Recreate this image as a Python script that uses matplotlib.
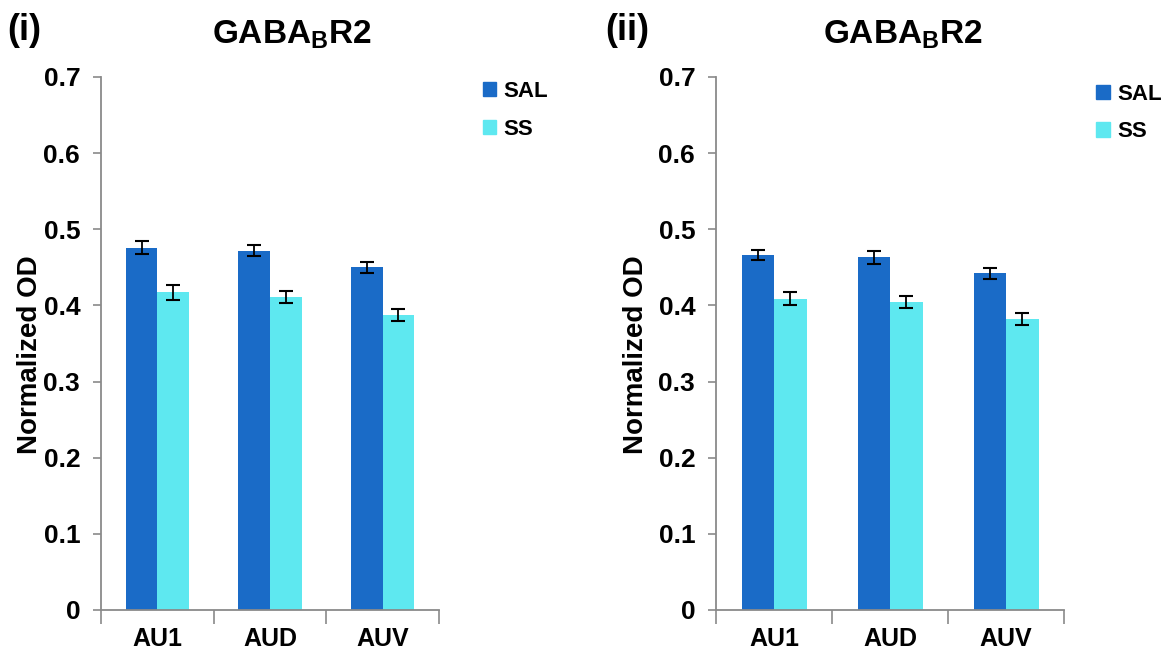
import numpy as np
import matplotlib.pyplot as plt
from matplotlib.patches import Patch

plt.rcParams['font.family'] = ['Liberation Sans', 'DejaVu Sans']
plt.rcParams['font.weight'] = 'bold'
plt.rcParams['mathtext.fontset'] = 'custom'
plt.rcParams['mathtext.rm'] = 'Liberation Sans:bold'
plt.rcParams['mathtext.bf'] = 'Liberation Sans:bold'

# data
regions = ['AU1', 'AUD', 'AUV']
sal_i = [0.476, 0.472, 0.450]
sal_i_err = [0.008, 0.007, 0.007]
ss_i = [0.417, 0.411, 0.387]
ss_i_err = [0.010, 0.008, 0.008]

sal_ii = [0.466, 0.463, 0.442]
sal_ii_err = [0.007, 0.008, 0.007]
ss_ii = [0.409, 0.404, 0.382]
ss_ii_err = [0.008, 0.008, 0.008]

yticks = [0, 0.1, 0.2, 0.3, 0.4, 0.5, 0.6, 0.7]
ytick_labels = ['0', '0.1', '0.2', '0.3', '0.4', '0.5', '0.6', '0.7']

sal_color = '#1a6bc7'
ss_color = '#5ee8f0'
spine_color = '#8a8a8a'

fig = plt.figure(figsize=(11.62, 6.59), dpi=100)

panels = [
    (0.0869, 0.2909, sal_i, sal_i_err, ss_i, ss_i_err, '(i)', 0.006, 0.251, 0.026, (1.07, 1.03)),
    (0.6162, 0.2995, sal_ii, sal_ii_err, ss_ii, ss_ii_err, '(ii)', 0.521, 0.777, 0.547, (1.035, 1.025)),
]

x = np.arange(len(regions))
w = 0.28
for x0, wd, sal, sal_e, ss, ss_e, tag, tag_x, title_x, ylab_x, leg_anchor in panels:
    ax = fig.add_axes([x0, 0.0744, wd, 0.8088])
    ax.bar(x - w / 2, sal, w, color=sal_color, zorder=2)
    ax.bar(x + w / 2, ss, w, color=ss_color, zorder=2)
    ax.errorbar(x - w / 2, sal, yerr=sal_e, fmt='none', ecolor='black',
                elinewidth=1.3, capsize=5, capthick=1.5, zorder=3)
    ax.errorbar(x + w / 2, ss, yerr=ss_e, fmt='none', ecolor='black',
                elinewidth=1.3, capsize=5, capthick=1.5, zorder=3)

    ax.set_xlim(-0.5, 2.5)
    ax.set_ylim(0, 0.7)
    ax.set_yticks(yticks)
    ax.set_yticklabels(ytick_labels, fontsize=19, fontweight='bold')
    ax.set_xticks(x)
    ax.set_xticklabels(regions, fontsize=18, fontweight='bold')
    ax.tick_params(axis='x', length=0, pad=12)
    ax.set_xticks([-0.5, 0.5, 1.5, 2.5], minor=True)
    ax.tick_params(axis='x', which='minor', length=10, width=1.2,
                   color=spine_color, direction='out')
    ax.tick_params(axis='y', length=6, width=1.2, color=spine_color,
                   direction='out', pad=9)
    for s in ['top', 'right']:
        ax.spines[s].set_visible(False)
    for s in ['left', 'bottom']:
        ax.spines[s].set_color(spine_color)
        ax.spines[s].set_linewidth(1.3)

    handles = [Patch(color=sal_color, label='SAL'), Patch(color=ss_color, label='SS')]
    ax.legend(handles=handles, loc='upper left', bbox_to_anchor=leg_anchor,
              frameon=False, handlelength=0.6, handleheight=0.6,
              handletextpad=0.35, labelspacing=0.75,
              prop={'weight': 'bold', 'size': 16})

    fig.text(tag_x, 0.953, tag, fontsize=26, fontweight='bold', va='center')
    fig.text(title_x, 0.948, r'GABA$_\mathrm{B}$R2', fontsize=24,
             fontweight='bold', ha='center', va='center')
    fig.text(ylab_x, 0.462, 'Normalized OD', fontsize=20, fontweight='bold',
             rotation=90, ha='center', va='center')

plt.savefig('out.png', dpi=100)
